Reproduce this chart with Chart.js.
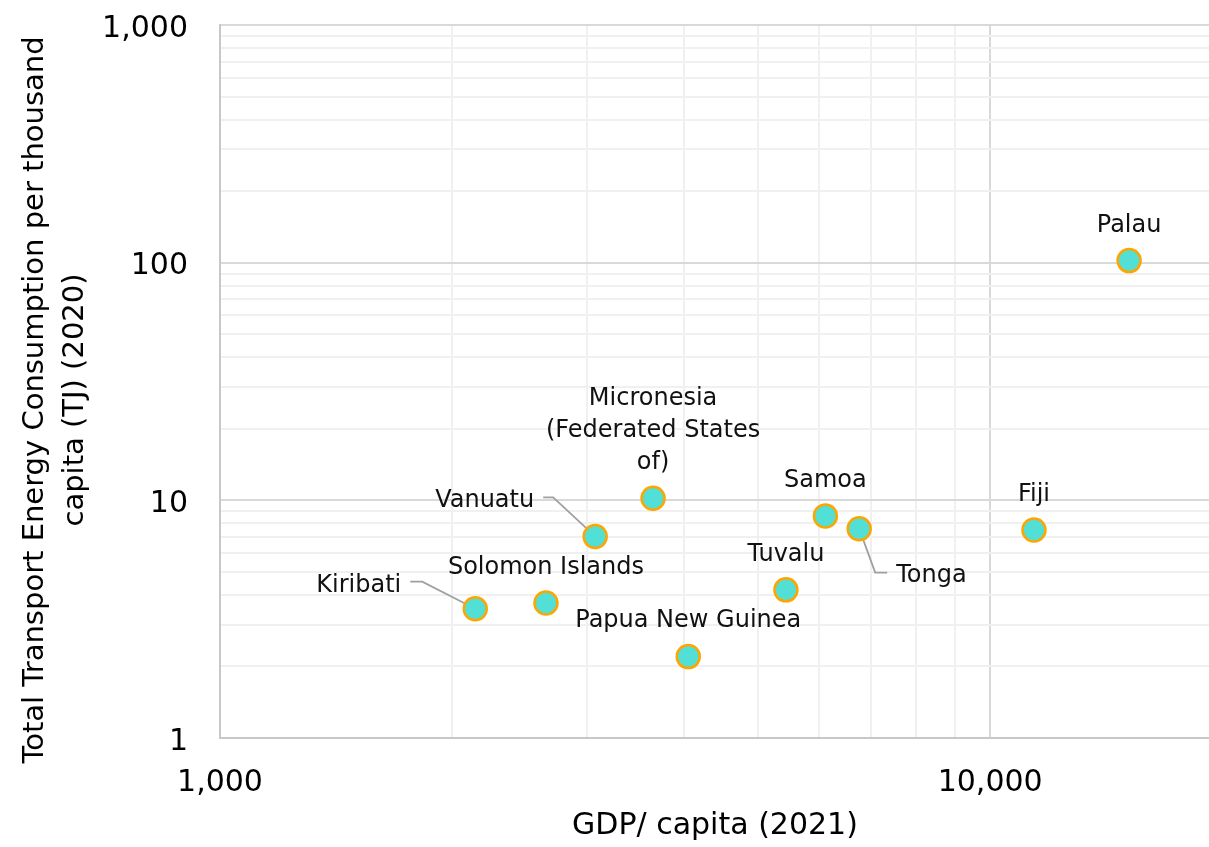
<!DOCTYPE html>
<html lang="en">
<head>
<meta charset="UTF-8">
<title>Transport energy vs GDP per capita</title>
<style>
  html, body { margin:0; padding:0; background:#fff; overflow:hidden; }
  #chart { position:absolute; left:0; top:0; }
</style>
<script src="https://cdn.jsdelivr.net/npm/chart.js"></script>
</head>
<body>
<canvas id="chart" width="1222" height="847"></canvas>
<script>
// values
const countries = ['Palau','Fiji','Tonga','Samoa','Tuvalu','Micronesia (Federated States of)','Papua New Guinea','Vanuatu','Solomon Islands','Kiribati'];
const gdpPerCapita = [15150, 11400, 6760, 6110, 5430, 3650, 4055, 3070, 2650, 2145];
const transportPerThousand = [102, 7.5, 7.6, 8.6, 4.2, 10.2, 2.2, 7.05, 3.7, 3.5];
const xMajorTicks = [1000, 10000];
const yMajorTicks = [1, 10, 100, 1000];
const xTitle = 'GDP/ capita (2021)';
const yTitle = ['Total Transport Energy Consumption per thousand', 'capita (TJ) (2020)'];

const FONT = '"DejaVu Sans", sans-serif';

// where each label sits relative to its marker (px), plus leader lines
const labelLayout = {
  'Palau': {dx:0, dy:-29},
  'Fiji': {dx:0, dy:-29},
  'Samoa': {dx:0, dy:-29},
  'Tuvalu': {dx:0, dy:-29},
  'Papua New Guinea': {dx:0, dy:-30},
  'Solomon Islands': {dx:0, dy:-29},
  'Micronesia (Federated States of)': {lines:['Micronesia','(Federated States','of)'], dx:0, dy:-29},
  'Tonga': {dx:37, dy:53, align:'left', leader:[[0,0],[16,44],[28,44]]},
  'Vanuatu': {dx:-61, dy:-29, align:'right', leader:[[-52,-39],[-42,-39],[0,0]]},
  'Kiribati': {dx:-74, dy:-17, align:'right', leader:[[-65,-27],[-53,-27],[0,0]]}
};

// every log gridline step: 1..9 x 10^n
function logSteps(min, max) {
  const out = [];
  for (let e = Math.floor(Math.log10(min)); Math.pow(10, e) <= max; e++)
    for (let s = 1; s <= 9; s++) { const v = s * Math.pow(10, e); if (v >= min && v <= max) out.push(v); }
  return out;
}

const points = gdpPerCapita.map((g, i) => ({x: g, y: transportPerThousand[i]}));

const leaders = {
  id: 'leaders',
  beforeDatasetsDraw(chart) {
    const ctx = chart.ctx, meta = chart.getDatasetMeta(0);
    ctx.save();
    ctx.strokeStyle = '#a0a0a0'; ctx.lineWidth = 1.8;
    countries.forEach((c, i) => {
      const L = labelLayout[c]; if (!L || !L.leader) return;
      const p = meta.data[i];
      ctx.beginPath();
      L.leader.forEach(([lx, ly], k) => k ? ctx.lineTo(p.x + lx, p.y + ly) : ctx.moveTo(p.x + lx, p.y + ly));
      ctx.stroke();
    });
    ctx.restore();
  },
  afterDatasetsDraw(chart) {
    const ctx = chart.ctx, meta = chart.getDatasetMeta(0);
    ctx.save();
    ctx.fillStyle = '#111'; ctx.font = '24px ' + FONT; ctx.textBaseline = 'alphabetic';
    countries.forEach((c, i) => {
      const L = labelLayout[c] || {dx:0, dy:-29};
      const p = meta.data[i];
      const lines = L.lines || [c];
      ctx.textAlign = L.align || 'center';
      lines.forEach((t, k) => ctx.fillText(t, p.x + L.dx, p.y + L.dy - (lines.length - 1 - k) * 32));
    });
    ctx.restore();
  }
};

const axisTitles = {
  id: 'axisTitles',
  afterDraw(chart) {
    const ctx = chart.ctx;
    ctx.save();
    ctx.fillStyle = '#000'; ctx.font = '30px ' + FONT;
    ctx.textAlign = 'center'; ctx.textBaseline = 'alphabetic';
    ctx.fillText(xTitle, 715, 834);
    ctx.font = '29px ' + FONT;
    [43, 83].forEach((bx, k) => {
      ctx.save(); ctx.translate(bx, 400); ctx.rotate(-Math.PI / 2);
      ctx.fillText(yTitle[k], 0, 0); ctx.restore();
    });
    ctx.restore();
  }
};

const gridColor = majors => c => majors.includes(c.tick.value) ? '#d9d9d9' : '#f0f0f0';
const fmt = majors => v => majors.includes(v) ? v.toLocaleString('en-US') : '';

new Chart(document.getElementById('chart'), {
  type: 'scatter',
  data: { datasets: [{
    data: points,
    pointRadius: 11.5, pointHoverRadius: 11.5,
    backgroundColor: '#52dfd5', borderColor: '#ffa500', borderWidth: 2.5
  }]},
  options: {
    responsive: false, animation: false,
    layout: { autoPadding: false, padding: {top: 25, left: 0, right: 0, bottom: 0} },
    plugins: { legend: {display:false}, tooltip: {enabled:false} },
    scales: {
      x: {
        type: 'logarithmic', min: 1000, max: 20000,
        afterBuildTicks: s => { s.ticks = logSteps(1000, 20000).map(v => ({value: v})); },
        afterFit: s => { s.height = 109; s.paddingRight = 0; },
        grid: { color: gridColor(xMajorTicks), lineWidth: 2, drawTicks: false },
        border: { color: '#c8c8c8', width: 2 },
        ticks: { autoSkip: false, maxRotation: 0, padding: 27, color: '#000', font: {family: FONT, size: 30}, callback: fmt(xMajorTicks) }
      },
      y: {
        type: 'logarithmic', min: 1, max: 1000,
        afterBuildTicks: s => { s.ticks = logSteps(1, 1000).map(v => ({value: v})); },
        afterFit: s => { s.width = 220; s.paddingTop = 0; },
        grid: { color: gridColor(yMajorTicks), lineWidth: 2, drawTicks: false },
        border: { color: '#c8c8c8', width: 2 },
        ticks: { autoSkip: false, padding: 32, labelOffset: 4, color: '#000', font: {family: FONT, size: 30}, callback: fmt(yMajorTicks) }
      }
    }
  },
  plugins: [leaders, axisTitles]
});
</script>
</body>
</html>
